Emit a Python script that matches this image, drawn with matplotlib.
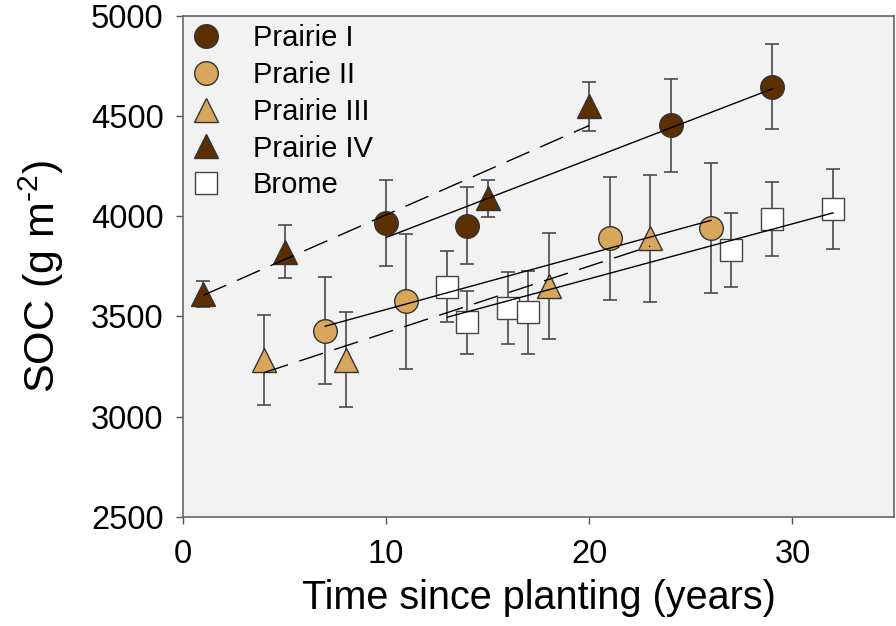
import numpy as np
import matplotlib
matplotlib.use("Agg")
import matplotlib.pyplot as plt

plt.rcParams['font.family'] = ['Liberation Sans', 'DejaVu Sans']

# ---- data ----
p1_x = [10, 14, 24, 29]
p1_y = [3967, 3953, 4453, 4646]
p1_e = [213, 193, 233, 211]

p2_x = [7, 11, 21, 26]
p2_y = [3429, 3575, 3889, 3941]
p2_e = [268, 338, 306, 324]

p3_x = [4, 8, 18, 23]
p3_y = [3283, 3285, 3652, 3889]
p3_e = [222, 237, 263, 316]

p4_x = [1, 5, 15, 20]
p4_y = [3612, 3823, 4089, 4548]
p4_e = [67, 133, 94, 122]

br_x = [13, 14, 16, 17, 27, 29, 32]
br_y = [3648, 3471, 3543, 3520, 3831, 3987, 4035]
br_e = [177, 158, 178, 205, 183, 183, 200]

labels = ["Prairie I", "Prarie II", "Prairie III", "Prairie IV", "Brome"]

dark = "#5C2E00"
tan = "#D9A75C"

fig = plt.figure(figsize=(8.96, 6.26), dpi=100)
ax = fig.add_axes([183/896, 1-517/626, (894-183)/896, (517-15.7)/626])
ax.set_facecolor("#F2F2F2")

series = [
    (p1_x, p1_y, p1_e, 'o', dark, 17, '-'),
    (p2_x, p2_y, p2_e, 'o', tan, 17, '-'),
    (p3_x, p3_y, p3_e, '^', tan, 17, (0, (18, 8.5))),
    (p4_x, p4_y, p4_e, '^', dark, 17, (0, (18, 8.5))),
    (br_x, br_y, br_e, 's', 'white', 15.5, '-'),
]

handles = []
for (x, y, e, m, c, ms, ls), lab in zip(series, labels):
    ax.errorbar(x, y, yerr=e, fmt='none', ecolor='#4a4a4a', elinewidth=1.2,
                capsize=4.7, capthick=1.2, zorder=2)
    ec = '#333333' if c != 'white' else '#444444'
    h, = ax.plot(x, y, linestyle='none', marker=m, markersize=ms,
                 markerfacecolor=c, markeredgecolor=ec, markeredgewidth=1.0,
                 zorder=3, label=lab)
    handles.append(h)
    xa = np.array(x, dtype=float)
    k, b = np.polyfit(xa, np.array(y, dtype=float), 1)
    xs = np.array([xa.min(), xa.max()])
    ax.plot(xs, k*xs + b, color='black', lw=1.0, linestyle=ls, zorder=4)

ax.set_xlim(0, 35)
ax.set_ylim(2500, 5000)
ax.set_xticks([0, 10, 20, 30])
ax.set_yticks([2500, 3000, 3500, 4000, 4500, 5000])
ax.tick_params(axis='both', direction='out', length=5, width=1, color='#555555',
               labelsize=23.5)
ax.tick_params(axis='y', pad=9)
ax.tick_params(axis='x', pad=11)
for s in ax.spines.values():
    s.set_color('#666666')
    s.set_linewidth(1.2)

ax.set_xlabel("Time since planting (years)", fontsize=28.5, labelpad=6)
ax.set_ylabel("SOC (g m$^{\\mathregular{\u20102}}$)", fontsize=31, labelpad=12)
ax.yaxis.set_label_coords(-0.165, 0.48)

leg = ax.legend(handles=handles, loc='upper left', frameon=False, fontsize=21,
                handlelength=1.0, handletextpad=1.1, borderaxespad=0.0,
                borderpad=0.3, labelspacing=0.3, numpoints=1)

fig.savefig("out.png", dpi=100)
